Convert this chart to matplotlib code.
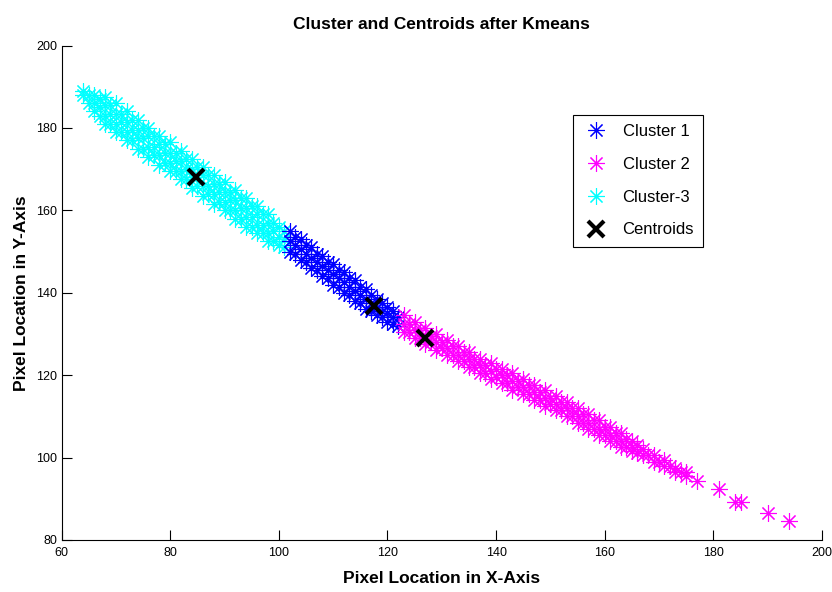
import matplotlib
matplotlib.use("Agg")
import matplotlib.pyplot as plt

plt.rcParams['font.family'] = ['Liberation Sans', 'DejaVu Sans']

# Cluster 3 (cyan): x of each column and the y values read in that column
c3_x = list(range(64, 102))
c3_y = [[188, 189], [186, 188], [184, 186, 188], [183, 185, 187],
        [181, 183, 185.5, 187.5], [181, 183.5, 185.5], [179, 181, 183.5, 186], [179, 181.5, 183.5],
        [177, 179, 181.5, 184], [177, 179.5, 182], [175, 177.5, 179.5, 182], [175, 177.5, 180],
        [173, 175.5, 178, 180], [173.5, 175.5, 178], [171, 173.5, 176, 178], [171.5, 174, 176],
        [169.5, 171.5, 174, 176.5], [169.5, 172, 174], [167.5, 169.5, 172, 174.5], [167.5, 170, 172.5],
        [165.5, 168, 170, 172.5], [166, 168, 170.5], [163.5, 166, 168.5, 170.5], [164, 166, 168.5],
        [161.5, 164, 166.5, 168.5], [162, 164.5, 166.5], [160, 162, 164.5, 167], [160, 162.5, 164.5],
        [158, 160, 162.5, 165], [158, 160.5, 163], [156, 158.5, 160.5, 163], [156, 158.5, 161],
        [154.5, 156.5, 159, 161], [154.5, 156.5, 159], [152.5, 154.5, 157, 159], [152.5, 155, 157],
        [151.5, 153.5, 156], [151, 153, 155]]

# Cluster 1 (blue)
c1_x = list(range(102, 123))
c1_y = [[150, 152.5, 155], [149.5, 151.5, 153.5], [148, 150.5, 153], [147.5, 149.5, 151.5],
        [146, 148.5, 151], [145.5, 147.5, 149.5], [144, 146.5, 149], [143.5, 145.5, 147.5],
        [142, 144.5, 147], [141.5, 143.5, 145.5], [140, 142.5, 145], [139.5, 141.5, 143.5],
        [138, 140.5, 143], [137.5, 139.5, 141.5], [136, 138.5, 141], [135.5, 137.5, 139.5],
        [134.5, 136.5, 138.5], [134, 135.5, 137.5], [133, 135, 136.5], [132.5, 134, 135.5],
        [132, 134]]

# Cluster 2 (magenta)
c2_x = list(range(123, 176)) + [177, 181, 184, 185, 190, 194]
c2_y = [[130.5, 132.5, 134.5], [130.5, 132.5], [129, 131, 133], [129, 131],
        [127.5, 129.5, 131.5], [128, 129.5], [126, 128, 130], [126.5, 128],
        [125, 126.5, 128.5], [125, 127], [123.5, 125, 127], [123.5, 125.5],
        [122, 124, 125.5], [122, 124], [120.5, 122.5, 124], [120.5, 122.5],
        [119, 121, 123], [119.5, 121.5], [118, 120, 121.5], [118, 120],
        [116.5, 118.5, 120.5], [117, 118.5], [115.5, 117, 119], [115.5, 117.5],
        [114, 116, 117.5], [114, 116], [112.5, 114.5, 116.5], [113, 114.5],
        [111.5, 113, 115], [111.5, 113.5], [110, 112, 113.5], [110, 112],
        [108.5, 110, 112], [108.5, 110.5], [107, 108.5, 110.5], [107, 109],
        [105.5, 107, 109], [105.5, 107.5], [104, 105.5, 107.5], [104, 106],
        [102.5, 104, 106], [102.5, 104.5], [101.5, 102.5, 104], [101, 103],
        [100.5, 102], [100.5], [99, 100.5], [99], [98, 99.5], [98],
        [96.5, 97.5], [96.5], [95.5, 96.5],
        [94.2], [92.4], [89.3], [89.3], [86.5], [84.5]]

# centroids
cent_x = [84.7, 117.5, 127.0]
cent_y = [168.2, 136.7, 129.0]


def flatten(xs, ys):
    px, py = [], []
    for x, col in zip(xs, ys):
        for y in col:
            px.append(x)
            py.append(y)
    return px, py


fig = plt.figure(figsize=(8.32, 5.92), dpi=100)
ax = fig.add_axes([0.074, 0.088, 0.914, 0.835])

star = (8, 2, 0)
x1, y1 = flatten(c1_x, c1_y)
x2, y2 = flatten(c2_x, c2_y)
x3, y3 = flatten(c3_x, c3_y)
ax.plot(x3, y3, ls='none', marker=star, ms=12, mew=0.8, color='#00ffff', label='Cluster-3', zorder=2)
ax.plot(x1, y1, ls='none', marker=star, ms=12, mew=0.8, color='#0000ff', label='Cluster 1', zorder=3)
ax.plot(x2, y2, ls='none', marker=star, ms=12, mew=0.8, color='#ff00ff', label='Cluster 2', zorder=3)
ax.plot(cent_x, cent_y, ls='none', marker='x', ms=11, mew=3, color='black', label='Centroids', zorder=5)

ax.set_xlim(60, 200)
ax.set_ylim(80, 200)
ax.set_xticks(range(60, 201, 20))
ax.set_yticks(range(80, 201, 20))
ax.spines['top'].set_visible(False)
ax.spines['right'].set_visible(False)
ax.tick_params(direction='in', length=7, labelsize=9, colors='black', pad=3)
ax.tick_params(axis='x', pad=5)

ax.set_title('Cluster and Centroids after Kmeans', fontsize=12.5, fontweight='bold', pad=12)
ax.set_xlabel('Pixel Location in X-Axis', fontsize=12.5, fontweight='bold', labelpad=9)
ax.set_ylabel('Pixel Location in Y-Axis', fontsize=12.5, fontweight='bold', labelpad=5)

h, l = ax.get_legend_handles_labels()
order = [1, 2, 0, 3]
leg = ax.legend([h[i] for i in order], [l[i] for i in order], loc='upper left',
                bbox_to_anchor=(0.673, 0.86), fancybox=False, edgecolor='black',
                framealpha=1, fontsize=12, handlelength=1.6, labelspacing=1.07,
                borderpad=0.55, handletextpad=0.8, borderaxespad=0)
leg.get_frame().set_linewidth(0.8)

fig.savefig('out.png', dpi=100)
